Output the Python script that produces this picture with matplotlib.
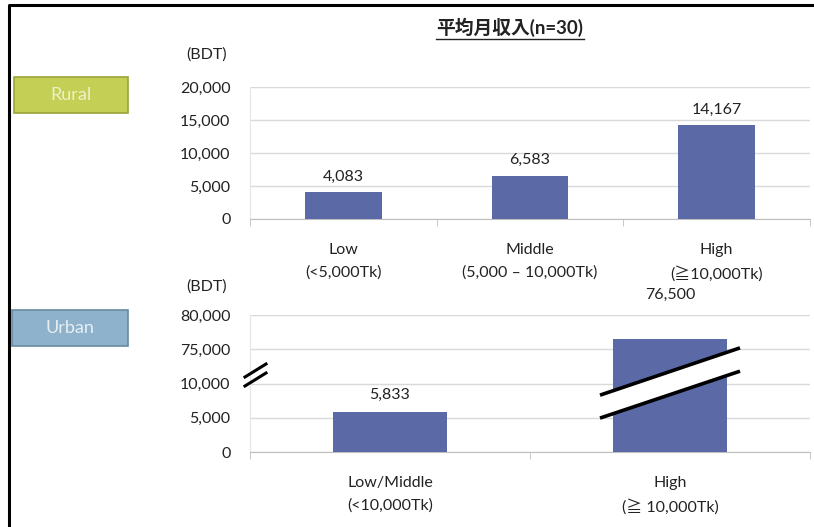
import numpy as np
import matplotlib
matplotlib.use('Agg')
import matplotlib.pyplot as plt
from matplotlib.patches import Rectangle, Polygon
from matplotlib.lines import Line2D

plt.rcParams['font.family'] = ['Lato', 'Noto Sans CJK JP', 'DejaVu Sans']

# Data
title = '平均月収入(n=30)'
unit_label = '(BDT)'

rural_cats = ['Low\n(<5,000Tk)', 'Middle\n(5,000 – 10,000Tk)', 'High\n(≧10,000Tk)']
rural_vals = [4083, 6583, 14167]
rural_ticks = [0, 5000, 10000, 15000, 20000]

urban_cats = ['Low/Middle\n(<10,000Tk)', 'High\n(≧ 10,000Tk)']
urban_vals = [5833, 76500]
urban_ticks = [0, 5000, 10000, 75000, 80000]

bar_color = '#5b6aa6'
grid_color = '#d9d9d9'
text_color = '#222222'
W, H = 814, 527


def fx(px):
    return px / W


def fy(py):
    return 1 - py / H


def broken_pos(v):
    # map value onto the broken urban axis (0-10,000 | 75,000-80,000)
    lo, hi = urban_ticks[:3], urban_ticks[3:]
    if v <= lo[-1]:
        return v / 5000
    return len(lo) + (v - hi[0]) / 5000


fig = plt.figure(figsize=(W / 100, H / 100), dpi=100)

# --- Rural panel ---
ax1 = fig.add_axes([fx(250), fy(219), fx(560), 132 / H])
x1 = np.arange(len(rural_cats))
ax1.bar(x1, rural_vals, width=0.41, color=bar_color, zorder=3)
ax1.set_xlim(-0.5, len(rural_cats) - 0.5)
ax1.set_ylim(0, rural_ticks[-1])
ax1.set_yticks(rural_ticks)
ax1.set_yticklabels([f'{t:,}' for t in rural_ticks])
for v, xi in zip(rural_vals, x1):
    ax1.annotate(f'{v:,}', (xi, v), xytext=(0, 6), textcoords='offset points',
                 ha='center', va='bottom', fontsize=11.5, color=text_color)
ax1.set_xticks(x1)
ax1.set_xticklabels(rural_cats, linespacing=1.75)
ax1.set_xticks(np.arange(len(rural_cats) + 1) - 0.5, minor=True)

# --- Urban panel (broken axis) ---
ax2 = fig.add_axes([fx(250), fy(452), fx(560), 137 / H])
x2 = np.arange(len(urban_cats))
upos = [broken_pos(v) for v in urban_vals]
ax2.bar(x2, upos, width=0.41, color=bar_color, zorder=3)
ax2.set_xlim(-0.5, len(urban_cats) - 0.5)
ax2.set_ylim(0, len(urban_ticks) - 1)
ax2.set_yticks(range(len(urban_ticks)))
ax2.set_yticklabels([f'{t:,}' for t in urban_ticks])
ax2.annotate(f'{urban_vals[0]:,}', (x2[0], upos[0]), xytext=(0, 7),
             textcoords='offset points', ha='center', va='bottom',
             fontsize=11.5, color=text_color)
ax2.annotate(f'{urban_vals[1]:,}', (x2[1], upos[1]), xytext=(0, 27),
             textcoords='offset points', ha='center', va='bottom',
             fontsize=11.5, color=text_color, zorder=5, annotation_clip=False,
             bbox=dict(boxstyle='square,pad=0.25', fc='white', ec='none'))
ax2.set_xticks(x2)
ax2.set_xticklabels(urban_cats, linespacing=1.75)
ax2.set_xticks(np.arange(len(urban_cats) + 1) - 0.5, minor=True)

for ax in (ax1, ax2):
    ax.set_facecolor('none')
    ax.grid(axis='y', color=grid_color, lw=1, zorder=0)
    for s in ('top', 'right'):
        ax.spines[s].set_visible(False)
    ax.spines['left'].set_color('#e6e6e6')
    ax.spines['bottom'].set_color('#bfbfbf')
    ax.tick_params(axis='y', length=0, pad=14, labelsize=11.5, labelcolor=text_color)
    ax.tick_params(axis='x', which='major', length=0, pad=17, labelsize=11.5,
                   labelcolor=text_color)
    ax.tick_params(axis='x', which='minor', length=5, color='#bfbfbf')

# break band across the High bar
xb = x2[1]
band_lo = [(xb - 0.25, 0.99), (xb + 0.25, 2.36)]
band_hi = [(xb - 0.25, 1.66), (xb + 0.25, 3.04)]
ax2.add_patch(Polygon(band_lo + band_hi[::-1], closed=True, fc='white',
                      ec='none', zorder=4))
for seg in (band_lo, band_hi):
    ax2.plot([p[0] for p in seg], [p[1] for p in seg], color='black', lw=2.6,
             zorder=5, solid_capstyle='butt')

# break mark on the y axis
for dy in (0, 9):
    fig.add_artist(Line2D([fx(245), fx(266)], [fy(377 + dy), fy(364 + dy)],
                          color='black', lw=2.2))

# --- text & decorations ---
t = fig.text(fx(510), fy(27), title, ha='center', va='center', fontsize=13.5,
             fontweight='bold', color=text_color)
fig.canvas.draw()
bb = t.get_window_extent().transformed(fig.transFigure.inverted())
fig.add_artist(Line2D([bb.x0, bb.x1], [bb.y0 - 0.004, bb.y0 - 0.004],
                      color=text_color, lw=1))

fig.text(fx(207), fy(55), unit_label, ha='center', va='center', fontsize=11.5,
         color=text_color)
fig.text(fx(207), fy(287), unit_label, ha='center', va='center', fontsize=11.5,
         color=text_color)

# region tags
fig.add_artist(Rectangle((fx(14), fy(113)), fx(114), 36 / H,
                         transform=fig.transFigure, fc='#c4cf55', ec='#9aa33a', lw=1.2))
fig.text(fx(71), fy(95), 'Rural', ha='center', va='center', fontsize=13,
         color='#eef1c8')
fig.add_artist(Rectangle((fx(12), fy(346)), fx(116), 36 / H,
                         transform=fig.transFigure, fc='#8eb2cb', ec='#6b8aa0', lw=1.2))
fig.text(fx(70), fy(328), 'Urban', ha='center', va='center', fontsize=13,
         color='#e6eef4')

# outer frame (left and top)
fig.add_artist(Line2D([fx(9), fx(9), 1], [0, fy(5), fy(5)], color='black', lw=2.2))

fig.savefig('out.png', dpi=100)
